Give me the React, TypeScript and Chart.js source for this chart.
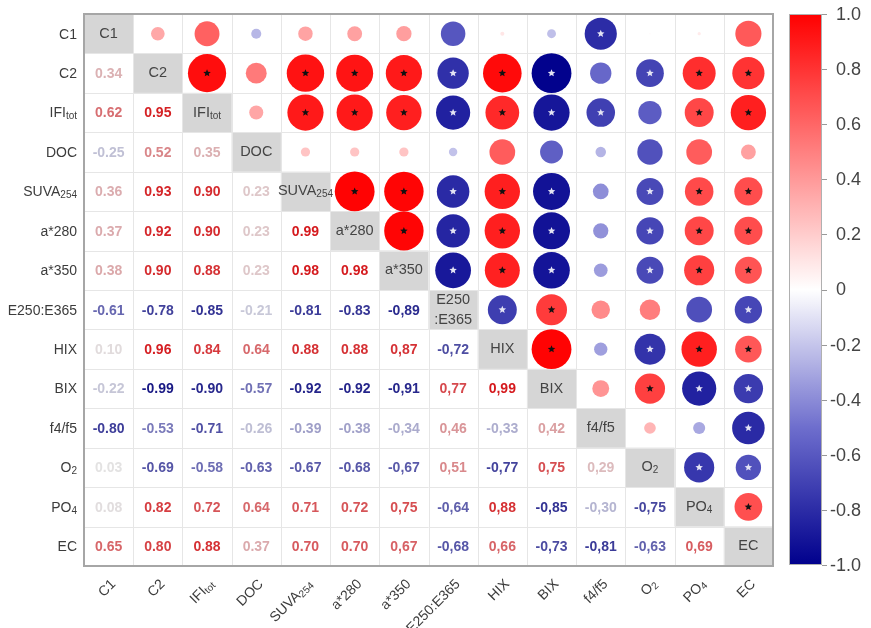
import React, { useEffect, useRef } from "react";
import { Chart, registerables } from "chart.js";

Chart.register(...registerables);

// Variable names ("_" marks a subscript part)
const variableNames: string[] = [
  "C1", "C2", "IFI_tot", "DOC", "SUVA_254", "a*280", "a*350",
  "E250:E365", "HIX", "BIX", "f4/f5", "O_2", "PO_4", "EC",
];

// Lower triangle of the correlation matrix (row i, columns 0..i-1)
const correlationRows: number[][] = [
  [],
  [0.34],
  [0.62, 0.95],
  [-0.25, 0.52, 0.35],
  [0.36, 0.93, 0.90, 0.23],
  [0.37, 0.92, 0.90, 0.23, 0.99],
  [0.38, 0.90, 0.88, 0.23, 0.98, 0.98],
  [-0.61, -0.78, -0.85, -0.21, -0.81, -0.83, -0.89],
  [0.10, 0.96, 0.84, 0.64, 0.88, 0.88, 0.87, -0.72],
  [-0.22, -0.99, -0.90, -0.57, -0.92, -0.92, -0.91, 0.77, 0.99],
  [-0.80, -0.53, -0.71, -0.26, -0.39, -0.38, -0.34, 0.46, -0.33, 0.42],
  [0.03, -0.69, -0.58, -0.63, -0.67, -0.68, -0.67, 0.51, -0.77, 0.75, 0.29],
  [0.08, 0.82, 0.72, 0.64, 0.71, 0.72, 0.75, -0.64, 0.88, -0.85, -0.30, -0.75],
  [0.65, 0.80, 0.88, 0.37, 0.70, 0.70, 0.67, -0.68, 0.66, -0.73, -0.81, -0.63, 0.69],
];

// Significance flags for the upper triangle (row i, columns i+1..13)
const significanceRows: string[] = [
  "0000000001000",
  "101111110111",
  "01111111011",
  "0000000000",
  "111110111",
  "11110111",
  "1110111",
  "110001",
  "10111",
  "0111",
  "001",
  "11",
  "1",
  "",
];

// Columns from this index on print a decimal comma
const commaFromColumn = 6;

const colorbarTicks: number[] = [1.0, 0.8, 0.6, 0.4, 0.2, 0, -0.2, -0.4, -0.6, -0.8, -1.0];
const colorbarTickLabels: string[] = ["1.0", "0.8", "0.6", "0.4", "0.2", "0", "-0.2", "-0.4", "-0.6", "-0.8", "-1.0"];

const N = variableNames.length;
const FONT = '"Liberation Sans", Arial, sans-serif';

function corr(i: number, j: number): number {
  if (i === j) return 1;
  return i > j ? correlationRows[i][j] : correlationRows[j][i];
}

function colorAt(r: number): [number, number, number] {
  if (r >= 0) {
    const t = Math.min(1, r);
    return [255, Math.round(255 * (1 - t)), Math.round(255 * (1 - t))];
  }
  const t = Math.min(1, -r);
  if (t <= 0.5) {
    const u = t / 0.5;
    return [Math.round(255 - 145 * u), Math.round(255 - 145 * u), Math.round(255 - 50 * u)];
  }
  const u = (t - 0.5) / 0.5;
  return [Math.round(110 - 110 * u), Math.round(110 - 110 * u), Math.round(205 - 65 * u)];
}

const rgb = (c: number[]) => `rgb(${c.map((v) => Math.round(v)).join(",")})`;

function textColor(r: number): string {
  const c = colorAt(r);
  const fade = Math.pow(1 - Math.abs(r), 2) * 0.9;
  const m = c.map((v) => v * (1 - fade) + 255 * fade);
  const tint = [150, 150, 175];
  return rgb(m.map((v, k) => (v * 0.88) * 0.85 + tint[k] * 0.15 * (1 - fade) + v * 0.15 * fade));
}

type Pt = { x: number; y: number; v: number };
const points: Pt[] = [];
for (let i = 0; i < N; i++) {
  for (let j = i + 1; j < N; j++) {
    points.push({ x: j + 0.5, y: i + 0.5, v: corr(i, j) });
  }
}

function drawName(ctx: CanvasRenderingContext2D, name: string, x: number, y: number, align: "left" | "right" | "center", size: number) {
  const [main, sub] = name.split("_");
  const mainFont = `${size}px ${FONT}`;
  const subFont = `${Math.round(size * 0.68)}px ${FONT}`;
  ctx.font = mainFont;
  const wm = ctx.measureText(main).width;
  let ws = 0;
  if (sub) {
    ctx.font = subFont;
    ws = ctx.measureText(sub).width;
  }
  const total = wm + ws;
  let start = x;
  if (align === "right") start = x - total;
  else if (align === "center") start = x - total / 2;
  ctx.textAlign = "left";
  ctx.textBaseline = "middle";
  ctx.font = mainFont;
  ctx.fillText(main, start, y);
  if (sub) {
    ctx.font = subFont;
    ctx.fillText(sub, start + wm, y + size * 0.22);
  }
}

function drawStar(ctx: CanvasRenderingContext2D, cx: number, cy: number, R: number, color: string) {
  const r = R * 0.45;
  ctx.beginPath();
  for (let k = 0; k < 10; k++) {
    const ang = -Math.PI / 2 + (k * Math.PI) / 5;
    const rad = k % 2 === 0 ? R : r;
    const px = cx + rad * Math.cos(ang);
    const py = cy + rad * Math.sin(ang);
    if (k === 0) ctx.moveTo(px, py);
    else ctx.lineTo(px, py);
  }
  ctx.closePath();
  ctx.fillStyle = color;
  ctx.fill();
}

const matrixPlugin = {
  id: "matrixPlugin",
  beforeDatasetsDraw(chart: any) {
    const ctx: CanvasRenderingContext2D = chart.ctx;
    const xs = chart.scales.x;
    const ys = chart.scales.y;
    const { left, right, top, bottom } = chart.chartArea;
    ctx.save();
    ctx.fillStyle = "#d6d6d6";
    for (let i = 0; i < N; i++) {
      const x0 = xs.getPixelForValue(i);
      const x1 = xs.getPixelForValue(i + 1);
      const y0 = ys.getPixelForValue(i);
      const y1 = ys.getPixelForValue(i + 1);
      ctx.fillRect(x0, y0, x1 - x0, y1 - y0);
    }
    ctx.strokeStyle = "#e6e6e6";
    ctx.lineWidth = 1;
    for (let k = 1; k < N; k++) {
      const x = Math.round(xs.getPixelForValue(k)) + 0.5;
      ctx.beginPath();
      ctx.moveTo(x, top);
      ctx.lineTo(x, bottom);
      ctx.stroke();
      const y = Math.round(ys.getPixelForValue(k)) + 0.5;
      ctx.beginPath();
      ctx.moveTo(left, y);
      ctx.lineTo(right, y);
      ctx.stroke();
    }
    ctx.restore();
  },
  afterDatasetsDraw(chart: any) {
    const ctx: CanvasRenderingContext2D = chart.ctx;
    const xs = chart.scales.x;
    const ys = chart.scales.y;
    const { left, right, top, bottom } = chart.chartArea;
    ctx.save();
    const cellH = Math.abs(ys.getPixelForValue(1) - ys.getPixelForValue(0));

    // stars on significant circles
    for (let i = 0; i < N; i++) {
      const flags = significanceRows[i];
      for (let j = i + 1; j < N; j++) {
        if (flags[j - i - 1] !== "1") continue;
        const r = corr(i, j);
        drawStar(ctx, xs.getPixelForValue(j + 0.5), ys.getPixelForValue(i + 0.5), cellH * 0.1, r > 0 ? "#111" : "#e4e4f4");
      }
    }

    // numbers in the lower triangle
    ctx.textAlign = "center";
    ctx.textBaseline = "middle";
    for (let i = 1; i < N; i++) {
      for (let j = 0; j < i; j++) {
        const r = corr(i, j);
        let s = r.toFixed(2);
        if (j >= commaFromColumn) s = s.replace(".", ",");
        ctx.fillStyle = textColor(r);
        ctx.font = `bold 14px ${FONT}`;
        ctx.textAlign = "center";
        ctx.fillText(s, xs.getPixelForValue(j + 0.5), ys.getPixelForValue(i + 0.5) + 1);
      }
    }

    // diagonal labels
    ctx.fillStyle = "#444";
    for (let i = 0; i < N; i++) {
      const cx = xs.getPixelForValue(i + 0.5);
      const cy = ys.getPixelForValue(i + 0.5);
      const name = variableNames[i];
      if (name.includes(":")) {
        const parts = name.split(":");
        drawName(ctx, parts[0], cx, cy - 10, "center", 14.5);
        drawName(ctx, ":" + parts[1], cx, cy + 10, "center", 14.5);
      } else {
        drawName(ctx, name, cx, cy, "center", 14.5);
      }
    }

    // outer border
    ctx.strokeStyle = "#a6a6a6";
    ctx.lineWidth = 2;
    ctx.strokeRect(left, top, right - left, bottom - top);

    // y labels
    ctx.fillStyle = "#3c3c3c";
    for (let i = 0; i < N; i++) {
      drawName(ctx, variableNames[i], left - 7, ys.getPixelForValue(i + 0.5) + 1, "right", 14);
    }
    // x labels (rotated)
    for (let j = 0; j < N; j++) {
      ctx.save();
      ctx.translate(xs.getPixelForValue(j + 0.5) + 5, bottom + 16);
      ctx.rotate(-Math.PI / 4);
      drawName(ctx, variableNames[j], 0, 0, "right", 14);
      ctx.restore();
    }

    // colorbar
    const cbL = right + 16;
    const cbR = right + 49;
    const cbT = top;
    const cbB = bottom - 1;
    const grad = ctx.createLinearGradient(0, cbT, 0, cbB);
    for (let k = 0; k <= 40; k++) {
      const v = 1 - (2 * k) / 40;
      grad.addColorStop(k / 40, rgb(colorAt(v)));
    }
    ctx.fillStyle = grad;
    ctx.fillRect(cbL, cbT, cbR - cbL, cbB - cbT);
    ctx.strokeStyle = "#b0b0b0";
    ctx.lineWidth = 1;
    ctx.strokeRect(cbL + 0.5, cbT + 0.5, cbR - cbL - 1, cbB - cbT - 1);
    ctx.font = `18px ${FONT}`;
    ctx.textBaseline = "middle";
    ctx.textAlign = "left";
    for (let k = 0; k < colorbarTicks.length; k++) {
      const v = colorbarTicks[k];
      const y = cbT + ((1 - v) / 2) * (cbB - cbT);
      ctx.strokeStyle = "#999";
      ctx.beginPath();
      ctx.moveTo(cbR, Math.round(y) + 0.5);
      ctx.lineTo(cbR + 5, Math.round(y) + 0.5);
      ctx.stroke();
      const lab = colorbarTickLabels[k];
      ctx.fillStyle = "#444";
      let x = cbR + 14;
      if (lab.startsWith("-")) x -= ctx.measureText("-").width;
      ctx.fillText(lab, x, y + 1);
    }
    ctx.restore();
  },
};

export default function App() {
  const canvasRef = useRef<HTMLCanvasElement | null>(null);
  useEffect(() => {
    if (!canvasRef.current) return;
    const chart = new Chart(canvasRef.current, {
      type: "scatter",
      data: {
        datasets: [
          {
            data: points as any,
            pointBackgroundColor: (c: any) => (c.raw ? rgb(colorAt(c.raw.v)) : "#fff"),
            pointBorderWidth: 0,
            pointBorderColor: "rgba(0,0,0,0)",
            pointHoverRadius: 0,
            pointRadius: (c: any) => {
              const ys = c.chart.scales.y;
              const xs = c.chart.scales.x;
              if (!ys || !xs || !c.raw) return 0;
              const ch = Math.abs(ys.getPixelForValue(1) - ys.getPixelForValue(0));
              const cw = Math.abs(xs.getPixelForValue(1) - xs.getPixelForValue(0));
              if (!isFinite(ch) || !isFinite(cw)) return 0;
              return Math.abs(c.raw.v) * Math.min(ch, cw) * 0.51;
            },
          } as any,
        ],
      },
      options: {
        responsive: false,
        animation: false,
        events: [],
        layout: { padding: { left: 84, right: 98, top: 14, bottom: 62 } },
        scales: {
          x: { type: "linear", min: 0, max: N, display: false },
          y: { type: "linear", min: 0, max: N, reverse: true, display: false },
        },
        plugins: { legend: { display: false }, tooltip: { enabled: false } },
      },
      plugins: [matrixPlugin],
    });
    return () => chart.destroy();
  }, []);
  return (
    <div style={{ position: "absolute", left: 0, top: 0, width: 871, height: 628, background: "#fff" }}>
      <canvas ref={canvasRef} width={871} height={628} />
    </div>
  );
}
